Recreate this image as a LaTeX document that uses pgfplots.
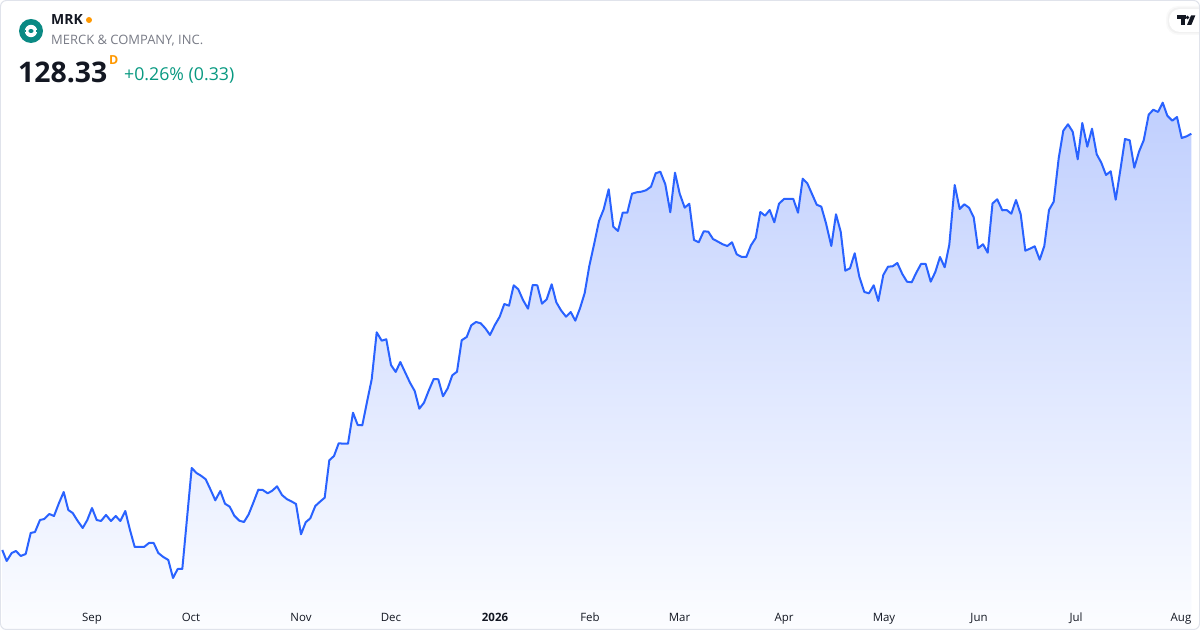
\documentclass[border=0pt]{standalone}
\usepackage{pgfplots}
\pgfplotsset{compat=1.18}
\usepackage{pgfplotstable}
\usepackage{fontspec}
\setmainfont{Open Sans}
\definecolor{tvblue}{HTML}{2962FF}
\definecolor{fillTop}{HTML}{C0CFFE}
\definecolor{fillBot}{HTML}{FCFDFF}
\definecolor{merckteal}{HTML}{0B8A84}
\definecolor{tvgray}{HTML}{787B86}
\definecolor{tvgreen}{HTML}{089981}
\definecolor{tvorange}{HTML}{FF9800}
\definecolor{tvtext}{HTML}{131722}
\definecolor{frame}{HTML}{E0E3EB}

% x: horizontal position (px), v: level (px above bottom of chart)
\pgfplotstableread{
x v
2.3 80
6.7 69
11.7 77
16 79
20.7 74
25.7 76
30.7 97
35 98
40 110
44.3 111
49.3 116
54 114
59 127
63.7 138
68.3 120
72.7 117
77.7 109
82.7 102
87.3 110
92 122
96.7 110
101 109
106 115
111 109
115.7 114
120.3 109
125.3 119
130 100
134.7 83
139.3 83
144 83
149 87
153.7 87
158.3 77
163.3 73
168.3 70
173 52
177.7 61
182.3 61
191.7 162
196.5 157
201 154.3
205.7 150.7
210.7 140
215.3 129.7
220.3 139
225 126.3
229.7 123.3
234.3 114.3
239.3 109.3
244 108
248.7 115.7
253.7 128.3
258.3 140.3
262.7 140
267.7 136.7
272.3 139.3
277 143.7
282 135
286.7 131
291.3 128.7
296 126
301 95.7
305.7 107.7
310.3 111.7
315.3 124
320 128.3
324.7 132.3
329.3 169.7
334 174
338.7 186.7
343.7 186.3
348 186.3
353 217.3
357.7 205
362.3 204.7
367 228
371.7 250.7
376.7 297.7
381.7 289.3
386.3 290.7
391 265
395.7 258
400.3 268
405.3 257.3
410 247.3
414.7 239
419.3 221.3
424 227.3
428.7 239.3
433.7 251
438.3 250.7
443 233.7
447.7 241.7
452.3 254.7
457 258.3
461.7 289.7
466.7 293
471.3 304.7
476 308
480.7 306.7
485.3 301.7
490 295
494.7 304.7
499.7 313.3
504.3 326
509 324.3
513.7 344.7
518.3 340.7
523 330
528 321.3
532.7 345
537.3 344.7
542 326.3
546.7 330.7
551.7 345.7
556.3 327.7
561 319.7
566 313.3
570.7 318
575.3 309.3
580 321.7
584.7 337
589.3 364
594.3 386.7
599 409
603.7 420.7
608.7 440.7
613.3 403.3
618 399
622.7 417.3
627.3 417.3
632 436.3
636.7 437.7
641.3 438.3
646 439.7
651 443.3
655.7 456.7
660.3 458.3
665.3 445.7
670.3 417.7
675 457.3
679.7 436.3
684.7 422.3
689.3 426.3
694 390
698.7 387.7
703.7 398.7
708.3 398.3
713 391
718 388.3
722.7 385.7
727.3 384
732 387.7
736.7 375.7
741.7 373
746.3 373
751 384.7
755.7 392
760.3 418
765 414.3
769.7 420
774.3 407.7
779 426.3
784 431
788.7 431
793.3 431
798 417.3
802.7 451.3
807.3 446.7
812 436
816.7 425.3
821.3 423.3
826 406.7
831.3 384
836 415.7
840.7 398.3
845.3 359.3
850 361.7
854.7 376.7
859.3 353.3
864.3 338
869 336.7
873.7 344.7
878.3 329
883.3 355
888 363.3
892.7 363.7
897.3 367
902.3 356
907 348.3
911.7 347.7
916.3 357.3
921 366
925.7 366
930.7 348.3
935.3 358
940 373
944.7 362.7
949.3 385.3
954.7 445
959.7 421
964.3 425.7
969 422.3
973.7 412.7
978 381.7
983 385.7
987.7 377.3
992.5 426.5
997.2 430.7
1002.3 419.7
1006.7 420
1011.3 416.3
1016 430
1020.7 415.7
1025.3 379.3
1030 381.3
1034.7 383.7
1039.7 370.3
1044.3 384
1049 420
1053.7 428.3
1058.7 471.7
1063.3 499.3
1068 505.7
1072.7 498.3
1077.7 470.7
1082.3 507
1087.3 483.3
1092 501.3
1096.7 475.7
1101.3 467.3
1106 455
1110.7 458.7
1115.7 430.3
1120.3 459.7
1125 491
1129.7 489.7
1134.3 462.3
1139 478.3
1143.7 489.7
1148.7 515.3
1153.3 520.3
1158 518
1162.7 527.3
1167.3 514.3
1172.3 509.3
1177 513
1181.7 492
1186.7 493.7
1191.3 496.3
}\mrk

\begin{document}
\begin{tikzpicture}[x=1bp,y=1bp]
\useasboundingbox (0,0) rectangle (1200,630);
\fill[white] (0,0) rectangle (1200,630);
\begin{axis}[
  at={(0,0)}, anchor=south west,
  scale only axis, width=1200bp, height=630bp,
  xmin=0, xmax=1200, ymin=0, ymax=630,
  axis line style={draw=none},
  axis on top,
  major tick length=0pt,
  ytick=\empty,
  xtick={92,191,301,391,495,590,679.5,784,884,979,1076,1181},
  xticklabels={Sep,Oct,Nov,Dec,\textbf{2026},Feb,Mar,Apr,May,Jun,Jul,Aug},
  xticklabel style={anchor=base, yshift=8.3bp, font=\fontsize{11.5}{13}\selectfont, text=tvtext},
  clip=true,
]
\addplot[draw=none, top color=fillTop, bottom color=fillBot] table[x=x,y=v]{\mrk} \closedcycle;
\addplot[tvblue, line width=2bp, line join=round, mark=none] table[x=x,y=v]{\mrk};
\end{axis}

% header
\fill[merckteal] (31,599) circle (12);
\fill[white] (31,599) circle (6.2);
\fill[merckteal] (31,599) ellipse (2.6 and 2.0);
\fill[merckteal] (24.5,598.2) rectangle (26.2,599.8);
\fill[merckteal] (35.8,598.2) rectangle (37.5,599.8);
\node[anchor=base west, inner sep=0, text=tvtext, font=\fontsize{14}{16}\selectfont\bfseries] at (51,605) {MRK};
\fill[tvorange] (89,610) circle (3);
\node[anchor=base west, inner sep=0, text=tvgray, font=\fontsize{13}{15}\selectfont] at (51,585) {MERCK \& COMPANY, INC.};
\node[anchor=base west, inner sep=0, text=tvtext, font=\fontsize{28.5}{30}\selectfont\bfseries] at (18,547.5) {128.33};
\node[anchor=base west, inner sep=0, text=tvorange, font=\fontsize{12.5}{14}\selectfont\bfseries] at (109,565) {D};
\node[anchor=base west, inner sep=0, text=tvgreen, font=\fontsize{17.8}{20}\selectfont] at (124,549.5) {+0.26\% (0.33)};

% TradingView badge
\begin{scope}
\clip (0,0) rectangle (1200,630);
\fill[black, opacity=0.025, rounded corners=12] (1166,595) rectangle (1210,624);
\fill[black, opacity=0.03, rounded corners=11] (1167.5,596.5) rectangle (1210,622.5);
\fill[white, rounded corners=11] (1169,598) rectangle (1210,621);
\fill[tvtext] (1176.5,614.5) rectangle (1185.5,611);
\fill[tvtext] (1181.3,611) rectangle (1184.8,605);
\fill[tvtext] (1187.5,612.5) circle (1.9);
\fill[tvtext] (1187,605) -- (1191.3,605) -- (1195.3,614.5) -- (1191,614.5) -- cycle;
\end{scope}

% frame
\draw[frame, line width=1bp, rounded corners=6bp] (0.5,0.5) rectangle (1199.5,629.5);
\end{tikzpicture}
\end{document}
